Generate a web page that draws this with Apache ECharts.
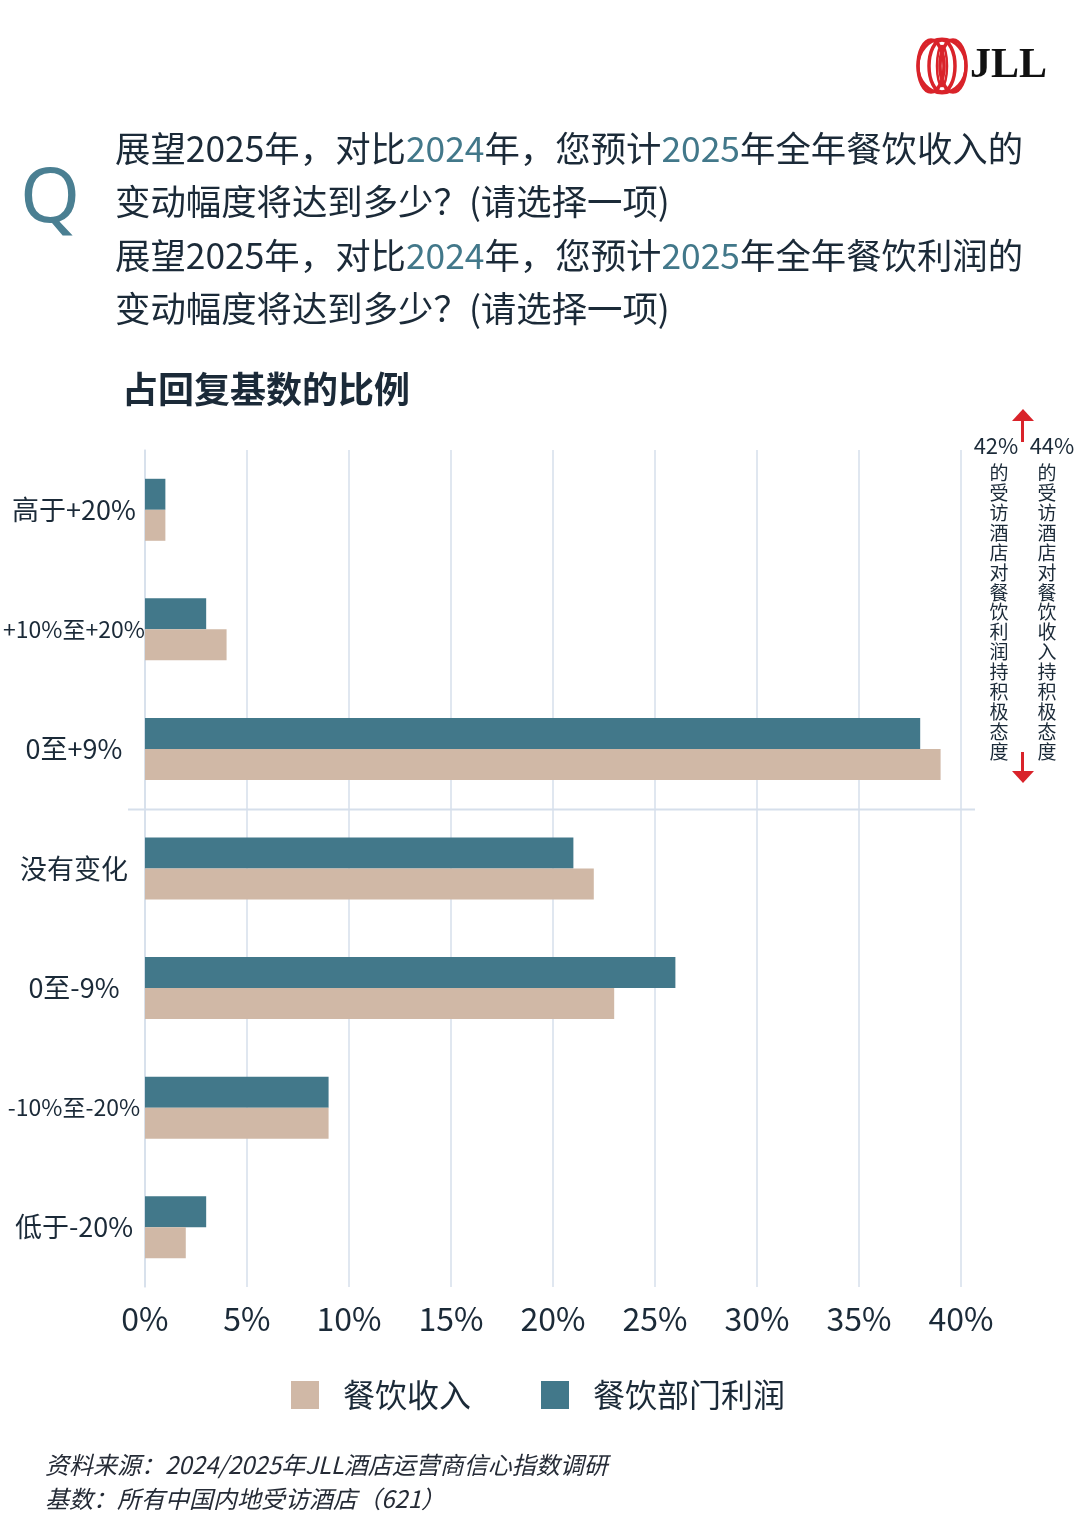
<!DOCTYPE html>
<html>
<head>
<meta charset="utf-8">
<script src="https://cdn.jsdelivr.net/npm/echarts@6/dist/echarts.min.js"></script>
<style>
html,body{margin:0;padding:0;background:#fff;}
#main{width:1080px;height:1538px;}
</style>
</head>
<body>
<div id="main"></div>
<script>
const categories = ['高于+20%', '+10%至+20%', '0至+9%', '没有变化', '0至-9%', '-10%至-20%', '低于-20%'];
const revenueValues = [1, 4, 39, 22, 23, 9, 2];   // 餐饮收入
const profitValues = [1, 3, 38, 21, 26, 9, 3];    // 餐饮部门利润
const seriesNames = ['餐饮收入', '餐饮部门利润'];
const xMin = 0, xMax = 40, xStep = 5;
const annotationLeft = ['42%', '的受访酒店对餐饮利润持积极态度'];
const annotationRight = ['44%', '的受访酒店对餐饮收入持积极态度'];

const DARK = '#1b2a38';
const TEAL = '#42788a';
const TAN = '#d0b8a6';
const GRID = '#d6dfeb';
const RED = '#d9232a';
const FONT = '"Noto Sans CJK SC", "Noto Sans", sans-serif';

const chart = echarts.init(document.getElementById('main'), null, {renderer: 'canvas'});

function titleLine(y, parts) {
  return {
    type: 'text', x: 115, y: y,
    style: {
      text: parts.map(p => p[1] ? '{t|' + p[0] + '}' : '{d|' + p[0] + '}').join(''),
      rich: {
        d: {fontSize: 35.4, fontFamily: FONT, fill: DARK, color: DARK},
        t: {fontSize: 35.4, fontFamily: FONT, fill: TEAL, color: TEAL}
      },
      font: '35.4px ' + FONT,
      verticalAlign: 'middle'
    }
  };
}

function vtext(x, y, str) {
  return {
    type: 'text', x: x, y: y,
    style: {
      text: str.split('').join('\n'),
      font: '19px ' + FONT, fill: DARK, align: 'center', verticalAlign: 'top',
      lineHeight: 19.9
    }
  };
}

const graphics = [
  // Logo rings
  {type: 'group', children: [
    {type: 'ellipse', shape: {cx: 931, cy: 66, rx: 13, ry: 26}, style: {fill: 'none', stroke: RED, lineWidth: 3.5}},
    {type: 'ellipse', shape: {cx: 942, cy: 66, rx: 13, ry: 26}, style: {fill: 'none', stroke: RED, lineWidth: 3.5}},
    {type: 'ellipse', shape: {cx: 953, cy: 66, rx: 13, ry: 26}, style: {fill: 'none', stroke: RED, lineWidth: 3.5}},
    {type: 'ellipse', shape: {cx: 942, cy: 66, rx: 24, ry: 27}, style: {fill: 'none', stroke: RED, lineWidth: 3}},
    {type: 'ellipse', shape: {cx: 942, cy: 66, rx: 5, ry: 20}, style: {fill: 'none', stroke: RED, lineWidth: 2.5}}
  ]},
  {type: 'text', x: 970, y: 66, style: {text: 'JLL', font: 'bold 42px "Liberation Serif", serif', fill: '#111', verticalAlign: 'middle'}},
  // Q
  {type: 'text', x: 50, y: 200, style: {text: 'Q', font: '77px "Noto Sans", sans-serif', fill: '#4a7f92', align: 'center', verticalAlign: 'middle'}},
  titleLine(149, [['展望2025年，对比'], ['2024', 1], ['年，您预计'], ['2025', 1], ['年全年餐饮收入的']]),
  titleLine(202, [['变动幅度将达到多少？(请选择一项)']]),
  titleLine(256, [['展望2025年，对比'], ['2024', 1], ['年，您预计'], ['2025', 1], ['年全年餐饮利润的']]),
  titleLine(309, [['变动幅度将达到多少？(请选择一项)']]),
  {type: 'text', x: 122, y: 389, style: {text: '占回复基数的比例', font: 'bold 36px ' + FONT, fill: DARK, verticalAlign: 'middle'}},
  // Annotation arrows
  {type: 'rect', shape: {x: 1021, y: 418, width: 3, height: 24}, style: {fill: RED}},
  {type: 'polygon', shape: {points: [[1012, 421], [1034, 421], [1023, 409]]}, style: {fill: RED}},
  {type: 'rect', shape: {x: 1021, y: 752, width: 3, height: 22}, style: {fill: RED}},
  {type: 'polygon', shape: {points: [[1012, 771], [1034, 771], [1023, 783]]}, style: {fill: RED}},
  {type: 'text', x: 996, y: 446, style: {text: annotationLeft[0], font: '22px ' + FONT, fill: DARK, align: 'center', verticalAlign: 'middle'}},
  {type: 'text', x: 1052, y: 446, style: {text: annotationRight[0], font: '22px ' + FONT, fill: DARK, align: 'center', verticalAlign: 'middle'}},
  vtext(999, 463, annotationLeft[1]),
  vtext(1047, 463, annotationRight[1]),
  // Footer
  {type: 'text', x: 45, y: 1465, style: {text: '资料来源：2024/2025年JLL酒店运营商信心指数调研', font: 'italic 24px ' + FONT, fill: '#252b36', verticalAlign: 'middle'}},
  {type: 'text', x: 45, y: 1499, style: {text: '基数：所有中国内地受访酒店（621）', font: 'italic 24px ' + FONT, fill: '#252b36', verticalAlign: 'middle'}}
];

const option = {
  backgroundColor: '#fff',
  animation: false,
  grid: {left: 143, right: 119, top: 450, height: 837, containLabel: false},
  legend: {
    data: seriesNames,
    left: 286, top: 1374,
    itemWidth: 28, itemHeight: 28, itemGap: 70,
    icon: 'rect',
    textStyle: {fontSize: 32, fontFamily: FONT, color: DARK, padding: [0, 0, 0, 19]}
  },
  xAxis: {
    type: 'value', min: xMin, max: xMax, interval: xStep,
    axisLine: {show: false}, axisTick: {show: false},
    splitLine: {show: true, lineStyle: {color: GRID, width: 1.5}},
    axisLabel: {formatter: '{value}%', fontSize: 32, fontFamily: FONT, color: DARK, margin: 16}
  },
  yAxis: {
    type: 'category', data: categories, inverse: true,
    axisLine: {show: true, lineStyle: {color: GRID, width: 1.5}},
    axisTick: {show: false},
    axisLabel: {
      align: 'center', margin: 71, fontSize: 27, fontFamily: FONT, color: DARK,
      formatter: v => v.length > 7 ? '{n|' + v + '}' : v,
      rich: {n: {fontSize: 23, fontFamily: FONT, color: DARK}}
    }
  },
  series: [
    {name: seriesNames[1], type: 'bar', data: profitValues, barWidth: 31, barGap: '0%', itemStyle: {color: TEAL}},
    {name: seriesNames[0], type: 'bar', data: revenueValues, barWidth: 31, barGap: '0%', itemStyle: {color: TAN}}
  ],
  graphic: graphics
};
chart.setOption(option);

// separator line between positive outlook and the rest
const y2 = chart.convertToPixel({yAxisIndex: 0}, categories[2]);
const y3 = chart.convertToPixel({yAxisIndex: 0}, categories[3]);
const sepY = Math.round((y2 + y3) / 2) + 0.5;
chart.setOption({graphic: graphics.concat([
  {type: 'line', shape: {x1: 128, y1: sepY, x2: 975, y2: sepY}, style: {stroke: GRID, lineWidth: 2}}
])});
</script>
</body>
</html>
